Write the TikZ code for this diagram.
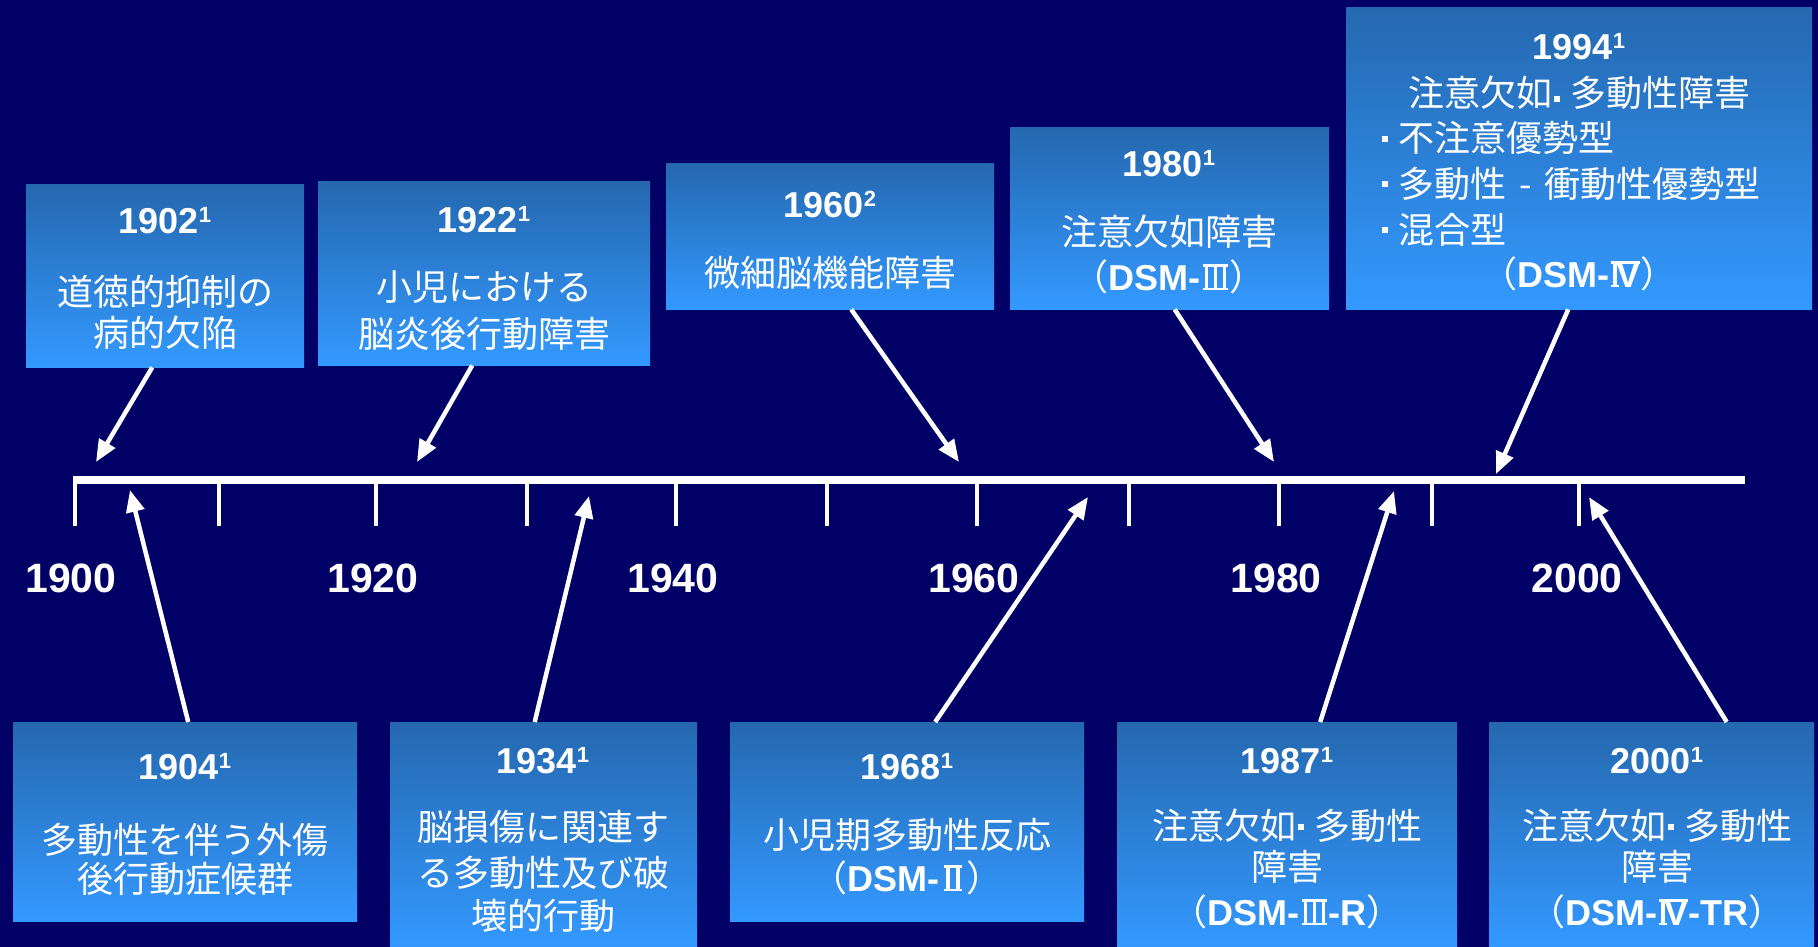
\documentclass[tikz,border=0pt]{standalone}
\usepackage{fontspec}
\setmainfont{Liberation Sans}
\newfontfamily\cjk{Noto Sans CJK JP}
\usetikzlibrary{arrows.meta}
\definecolor{bg}{RGB}{0,0,102}
\definecolor{boxtop}{RGB}{37,104,175}
\definecolor{boxbot}{RGB}{51,153,255}
\newcommand\sups[1]{\raisebox{11pt}{\fontsize{22}{22}\selectfont #1}}
\newcommand\dsm[1]{{\rmfamily\bfseries DSM-}#1}
% roman numerals with bars
\newcommand\rnII{\hbox{\kern1pt\rlap{\rule{17.2pt}{2.5pt}}\rlap{\rule[23.3pt]{17.2pt}{2.5pt}}\kern2pt\rule{3.6pt}{25.8pt}\kern6pt\rule{3.6pt}{25.8pt}\kern2pt\kern1pt}}
\newcommand\rnIII{\hbox{\kern1pt\rlap{\rule{25.8pt}{2.5pt}}\rlap{\rule[23.3pt]{25.8pt}{2.5pt}}\kern2pt\rule{3.6pt}{25.8pt}\kern5.5pt\rule{3.6pt}{25.8pt}\kern5.5pt\rule{3.6pt}{25.8pt}\kern2pt\kern1pt}}
\newcommand\rnIV{\hbox{\kern1pt\rlap{\rule[23.3pt]{29pt}{2.5pt}}\rlap{\rule{7.6pt}{2.5pt}}\kern2pt\rule{3.6pt}{25.8pt}\kern-0.5pt{\rmfamily\bfseries V}\kern0.5pt}}
% square middle dot
\newcommand\sqd[1][10pt]{\kern2pt\rule[#1]{6pt}{6pt}\kern10pt}
\begin{document}
\begin{tikzpicture}[x=1pt,y=-1pt,
  evbox/.style={shading=axis, top color=boxtop, bottom color=boxbot, draw=none, inner sep=0, anchor=north west},
  yr/.style={text=white, font=\fontsize{36}{36}\selectfont\bfseries, anchor=base, inner sep=0},
  jp/.style={text=white, font=\cjk\fontsize{36}{36}\selectfont, anchor=base, inner sep=0},
  axlab/.style={text=white, font=\fontsize{41}{41}\selectfont\bfseries, anchor=base, inner sep=0},
  arr/.style={draw=white, line width=4.5pt, -{Triangle[length=22pt,width=18pt]}},
  axisline/.style={draw=white, line width=7.5pt},
  tickline/.style={draw=white, line width=3.5pt}
]
\useasboundingbox (0,0) rectangle (1818,947);
\fill[bg] (0,0) rectangle (1818,947);

% timeline
\draw[axisline] (73,480) -- (1745,480);
\foreach \x in {75,219,376,527,676,827,977,1129,1279,1432,1579}
  \draw[tickline] (\x,480) -- (\x,526);

\node[axlab] (l1900) at (71,592) {1900};
\node[axlab] (l1920) at (373,592) {1920};
\node[axlab] (l1940) at (673,592) {1940};
\node[axlab] (l1960) at (974,592) {1960};
\node[axlab] (l1980) at (1276,592) {1980};
\node[axlab] (l2000) at (1577,592) {2000};

% boxes
\node[evbox, minimum width=278, minimum height=183] (b1902) at (26,184) {};
\node[evbox, minimum width=332, minimum height=184] (b1922) at (318,181) {};
\node[evbox, minimum width=328, minimum height=146] (b1960) at (666,163) {};
\node[evbox, minimum width=319, minimum height=182] (b1980) at (1010,127) {};
\node[evbox, minimum width=466, minimum height=302] (b1994) at (1346,7) {};
\node[evbox, minimum width=344, minimum height=199] (b1904) at (13,722) {};
\node[evbox, minimum width=307, minimum height=226] (b1934) at (390,722) {};
\node[evbox, minimum width=354, minimum height=199] (b1968) at (730,722) {};
\node[evbox, minimum width=340, minimum height=226] (b1987) at (1117,722) {};
\node[evbox, minimum width=325, minimum height=226] (b2000) at (1489,722) {};

% texts
\node[yr] (y1902) at (165,233) {1902\sups{1}};
\node[jp] (t1902a) at (165,305) {道徳的抑制の};
\node[jp] (t1902b) at (165,346) {病的欠陥};

\node[yr] (y1922) at (484,232) {1922\sups{1}};
\node[jp] (t1922a) at (484,300) {小児における};
\node[jp] (t1922b) at (484,347) {脳炎後行動障害};

\node[yr] (y1960) at (830,217) {1960\sups{2}};
\node[jp] (t1960a) at (830,286) {微細脳機能障害};

\node[yr] (y1980) at (1169,176) {1980\sups{1}};
\node[jp] (t1980a) at (1169,245) {注意欠如障害};
\node[jp] (t1980b) at (1169,290) {（\dsm{\kern1pt\rnIII}）};

\node[yr] (y1994) at (1579,60) {1994\sups{1}};
\node[jp] (t1994a) at (1579,107) {注意欠如\sqd[5pt]多動性障害};
\node[jp, anchor=base west] (t1994b) at (1380,152) {\sqd 不注意優勢型};
\node[jp, anchor=base west] (t1994c) at (1380,197) {\sqd 多動性\hspace{13pt}-\hspace{13pt}衝動性優勢型};
\node[jp, anchor=base west] (t1994d) at (1380,243) {\sqd 混合型};
\node[jp] (t1994e) at (1579,287) {（\dsm{\kern1pt\rnIV}）};

\node[yr] (y1904) at (185,779) {1904\sups{1}};
\node[jp] (t1904a) at (185,853) {多動性を伴う外傷};
\node[jp] (t1904b) at (185,892) {後行動症候群};

\node[yr] (y1934) at (543,773) {1934\sups{1}};
\node[jp] (t1934a) at (543,840) {脳損傷に関連す};
\node[jp] (t1934b) at (543,886) {る多動性及び破};
\node[jp] (t1934c) at (543,929) {壊的行動};

\node[yr] (y1968) at (907,779) {1968\sups{1}};
\node[jp] (t1968a) at (907,848) {小児期多動性反応};
\node[jp] (t1968b) at (907,891) {（\dsm{\kern4pt\rnII\kern4pt}）};

\node[yr] (y1987) at (1287,773) {1987\sups{1}};
\node[jp] (t1987a) at (1287,839) {注意欠如\sqd[9pt]多動性};
\node[jp] (t1987b) at (1287,880) {障害};
\node[jp] (t1987c) at (1287,925) {（\dsm{\kern1pt\rnIII}{\rmfamily\bfseries -R}）};

\node[yr] (y2000) at (1657,773) {2000\sups{1}};
\node[jp] (t2000a) at (1657,839) {注意欠如\sqd[9pt]多動性};
\node[jp] (t2000b) at (1657,880) {障害};
\node[jp] (t2000c) at (1657,925) {（\dsm{\kern1pt\rnIV}{\rmfamily\bfseries -TR}）};

% arrow tips
\coordinate (p1902) at (96,462);
\coordinate (p1922) at (417,462);
\coordinate (p1960) at (959,462);
\coordinate (p1980) at (1274,462);
\coordinate (p1994) at (1496,474);
\coordinate (p1904) at (130,490);
\coordinate (p1934) at (589,496);
\coordinate (p1968) at (1088,497);
\coordinate (p1987) at (1394,491);
\coordinate (p2000) at (1589,497);

\draw[arr] ([xshift=-13pt]b1902.south) -- (p1902);
\draw[arr] ([xshift=-12pt]b1922.south) -- (p1922);
\draw[arr] ([xshift=21pt]b1960.south) -- (p1960);
\draw[arr] ([xshift=5pt]b1980.south) -- (p1980);
\draw[arr] ([xshift=-11pt]b1994.south) -- (p1994);
\draw[arr] ([xshift=3pt]b1904.north) -- (p1904);
\draw[arr] ([xshift=-9pt]b1934.north) -- (p1934);
\draw[arr] ([xshift=28pt]b1968.north) -- (p1968);
\draw[arr] ([xshift=33pt]b1987.north) -- (p1987);
\draw[arr] ([xshift=75pt]b2000.north) -- (p2000);
\end{tikzpicture}
\end{document}
